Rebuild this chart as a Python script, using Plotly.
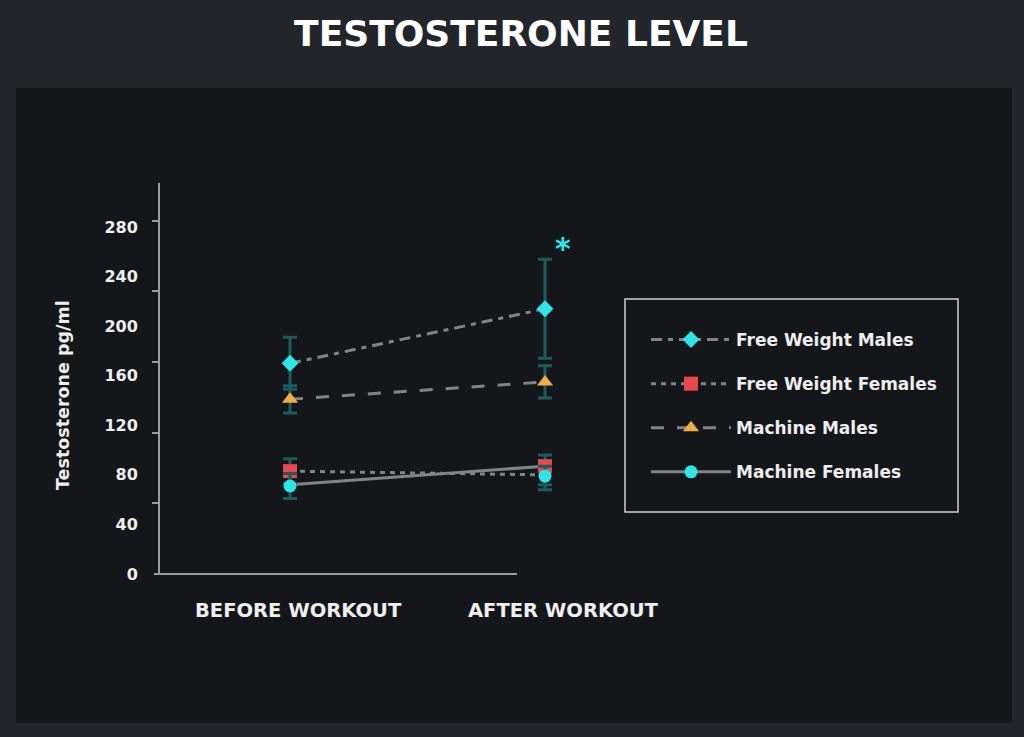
import plotly.graph_objects as go

# ---------------- data ----------------
categories = ["BEFORE WORKOUT", "AFTER WORKOUT"]
series_names = ["Free Weight Males", "Free Weight Females", "Machine Males", "Machine Females"]

fwm_values = [170, 214]
fwm_err_plus = [21, 40]
fwm_err_minus = [21, 40]

fwf_values = [83, 87]
fwf_err_plus = [10, 9]
fwf_err_minus = [10, 15]

mm_values = [141, 155]
mm_err_plus = [11, 13]
mm_err_minus = [11, 13]

mf_values = [71, 79]
mf_err_plus = [10, 8]
mf_err_minus = [10, 11]

# connecting lines as drawn in the source figure
fwm_line = [170, 214]
fwf_line = [83, 80]
mm_line = [141, 155]
mf_line = [72, 87]

y_tick_vals = [0, 40, 80, 120, 160, 200, 240, 280]
y_tick_marks = [57, 114, 171, 228, 285]
title_text = "TESTOSTERONE LEVEL"
y_title = "Testosterone pg/ml"
significance_mark = "*"

# ---------------- style ----------------
W, H = 1024, 737
L, R, T, B = 160, 600, 183, 574
AXIS_END = 517
X_RANGE = [-(290 - L) / 255, (R - 290) / 255]
FONT = "DejaVu Sans"
OUTER_BG = "#22252a"
PANEL_BG = "#14171a"
LINE_GRAY = "#7f8585"
ERR_COLOR = "#1e5b5c"
AXIS_COLOR = "#9a9c9e"
TEXT_COLOR = "#eeeeee"
CYAN = "#2ee6e8"
RED = "#e8474c"
ORANGE = "#f0ad45"


def xp(px):
    return (px - L) / (R - L)


def yp(py):
    return (B - py) / (B - T)


series = [
    dict(name=series_names[0], y=fwm_values, ep=fwm_err_plus, em=fwm_err_minus, line=fwm_line,
         dash="11px,6px,5px,6px", symbol="diamond", size=13, color=CYAN),
    dict(name=series_names[1], y=fwf_values, ep=fwf_err_plus, em=fwf_err_minus, line=fwf_line,
         dash="5px,5px", symbol="square", size=14, color=RED),
    dict(name=series_names[2], y=mm_values, ep=mm_err_plus, em=mm_err_minus, line=mm_line,
         dash="13px,13px", symbol="triangle-up", size=14, color=ORANGE),
    dict(name=series_names[3], y=mf_values, ep=mf_err_plus, em=mf_err_minus, line=mf_line,
         dash="solid", symbol="circle", size=13, color=CYAN),
]

fig = go.Figure()

# connecting lines
for s in series:
    fig.add_trace(go.Scatter(
        x=categories, y=s["line"], mode="lines",
        line=dict(color=LINE_GRAY, width=3, dash=s["dash"]),
        showlegend=False, hoverinfo="skip"))

# markers with error bars
for s in series:
    fig.add_trace(go.Scatter(
        x=categories, y=s["y"], mode="markers", name=s["name"],
        marker=dict(symbol=s["symbol"], size=s["size"], color=s["color"], line=dict(width=0)),
        error_y=dict(type="data", symmetric=False, array=s["ep"], arrayminus=s["em"],
                     color=ERR_COLOR, thickness=3, width=7),
        showlegend=False, cliponaxis=False))

# legend entries
for i, s in enumerate(series):
    fig.add_trace(go.Scatter(
        x=[None], y=[None], mode="lines+markers", name=s["name"],
        legendgroup=f"g{i}", legendrank=i + 1,
        line=dict(color=LINE_GRAY, width=3, dash=s["dash"]),
        marker=dict(symbol=s["symbol"], size=s["size"], color=s["color"], line=dict(width=0)),
        showlegend=True))

shapes = [
    dict(type="rect", xref="paper", yref="paper", x0=xp(16), x1=xp(1012), y0=yp(723), y1=yp(88),
         fillcolor=PANEL_BG, line=dict(width=0), layer="below"),
    dict(type="rect", xref="paper", yref="paper", x0=xp(625), x1=xp(958), y0=yp(512), y1=yp(299),
         fillcolor="rgba(0,0,0,0)", line=dict(color="#cfcfcf", width=1.5), layer="above"),
    # x axis baseline
    dict(type="line", xref="paper", yref="paper", x0=xp(154), x1=xp(AXIS_END), y0=0, y1=0,
         line=dict(color=AXIS_COLOR, width=2), layer="above"),
]

annotations = [
    dict(text=y_title, textangle=-90, xref="paper", yref="paper", x=xp(63), y=yp(395),
         xanchor="center", yanchor="middle", showarrow=False,
         font=dict(family=FONT, size=17.5, color=TEXT_COLOR, weight="bold")),
    dict(text=significance_mark, xref="paper", yref="paper", x=xp(563), y=yp(248),
         xanchor="center", yanchor="middle", showarrow=False,
         font=dict(family=FONT, size=30, color=CYAN, weight="bold")),
]
for cat, cx in zip(categories, [298, 563]):
    annotations.append(dict(text=cat, xref="paper", yref="paper", x=xp(cx), y=yp(610),
                            xanchor="center", yanchor="middle", showarrow=False,
                            font=dict(family=FONT, size=19.5, color=TEXT_COLOR, weight="bold")))

fig.update_layout(
    width=W, height=H,
    margin=dict(l=L, r=W - R, t=T, b=H - B, pad=0),
    paper_bgcolor=OUTER_BG, plot_bgcolor="rgba(0,0,0,0)",
    title=dict(text=title_text, x=521 / W, xanchor="center", y=1 - 33 / H, yanchor="middle",
               xref="container", yref="container",
               font=dict(family=FONT, size=36, color="#ffffff", weight="bold")),
    xaxis=dict(type="category", range=X_RANGE, showline=False,
               showticklabels=False, ticks="", showgrid=False, zeroline=False,
               fixedrange=True),
    yaxis=dict(range=[0, 315.5], tickmode="array", tickvals=y_tick_vals, ticks="",
               showline=True, linecolor=AXIS_COLOR, linewidth=2, showgrid=False, zeroline=False,
               tickfont=dict(family=FONT, size=16, color=TEXT_COLOR, weight="bold"),
               ticklabelstandoff=17,
               minor=dict(tickmode="array", tickvals=y_tick_marks, ticks="outside", ticklen=6,
                          tickcolor=AXIS_COLOR, tickwidth=2, showgrid=False)),
    legend=dict(x=xp(646), y=yp(322), xanchor="left", yanchor="top", bgcolor="rgba(0,0,0,0)",
                borderwidth=0, itemwidth=80, tracegroupgap=19,
                font=dict(family=FONT, size=17, color=TEXT_COLOR, weight="bold")),
    shapes=shapes,
    annotations=annotations,
    showlegend=True,
)

fig.write_html("out.html")
